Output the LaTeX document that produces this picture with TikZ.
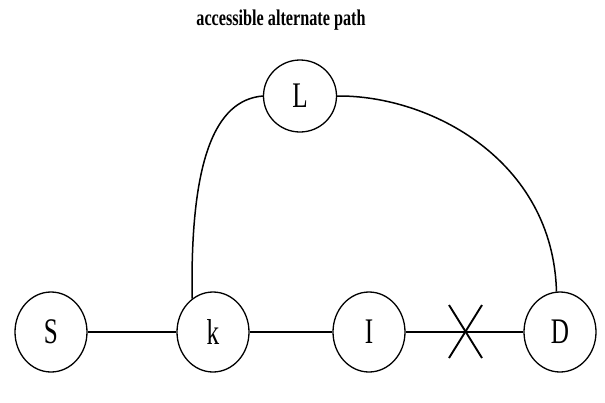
\documentclass[tikz,border=0pt]{standalone}
\usepackage{fontspec}
\setmainfont{Liberation Serif}
\usetikzlibrary{shapes.geometric}
\begin{document}
\begin{tikzpicture}[x=1pt,y=-1pt,
  vertex/.style={draw, ellipse, line width=1.3pt, minimum width=72pt, minimum height=80pt, inner sep=0pt,
    font=\fontsize{36}{36}\selectfont},
  link/.style={line width=1.5pt},
  cross/.style={line width=1.9pt}]
\useasboundingbox (0,0) rectangle (605,402);
\node[font=\fontsize{22.5}{22.5}\selectfont\bfseries] (title) at (281,20) {\scalebox{0.72}[1]{accessible alternate path}};
\node[vertex] (S) at (51,332) {\scalebox{0.7}[1]{S}};
\node[vertex] (k) at (213,332) {\scalebox{0.7}[1]{k}};
\node[vertex] (I) at (369,332) {\scalebox{0.7}[1]{I}};
\node[vertex] (D) at (560,332) {\scalebox{0.7}[1]{D}};
\node[vertex, minimum width=73pt, minimum height=72pt] (L) at (300,96) {\scalebox{0.7}[1]{L}};
\coordinate (Xa) at (449,305);
\coordinate (Xb) at (482,358);
\coordinate (Xc) at (482,305);
\coordinate (Xd) at (449,358);
\draw[link] (S) -- (k);
\draw[link] (k) -- (I);
\draw[link] (I) -- (D);
\draw[cross] (Xa) -- (Xb);
\draw[cross] (Xc) -- (Xd);
\draw[link] (k.122) .. controls (190,160) and (215,100) .. (L.west);
\draw[link] (L.east) .. controls (430,95) and (553,160) .. (D.95);
\end{tikzpicture}
\end{document}
